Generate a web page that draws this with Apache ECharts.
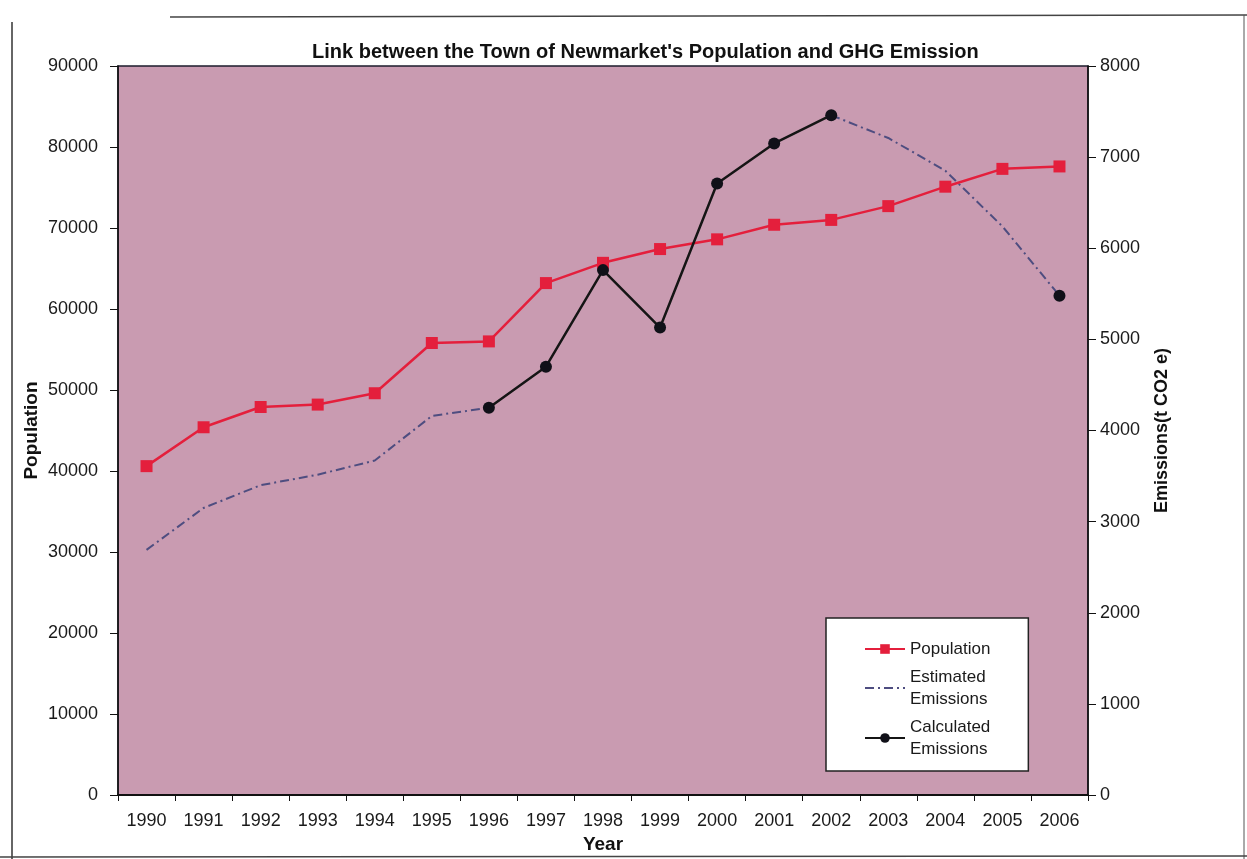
<!DOCTYPE html>
<html>
<head>
<meta charset="utf-8">
<script src="https://cdn.jsdelivr.net/npm/echarts@6/dist/echarts.min.js"></script>
<style>
html,body{margin:0;padding:0;background:#fff;}
#chart{width:1247px;height:859px;}
</style>
</head>
<body>
<div id="chart"></div>
<script>
const years = ['1990','1991','1992','1993','1994','1995','1996','1997','1998','1999','2000','2001','2002','2003','2004','2005','2006'];
const population = [40600, 45400, 47900, 48200, 49600, 55800, 56000, 63200, 65700, 67400, 68600, 70400, 71000, 72700, 75100, 77300, 77600];
const estimatedEmissions = [2690, 3150, 3400, 3515, 3670, 4160, 4250, null, null, null, null, null, 7460, 7210, 6850, 6240, 5480];
const calculatedEmissions = [null, null, null, null, null, null, 4250, 4700, 5760, 5130, 6710, 7150, 7460, null, null, null, 5480];
const popTicks = {min: 0, max: 90000, interval: 10000};
const emTicks = {min: 0, max: 8000, interval: 1000};

const FONT = '"Liberation Sans", Arial, "DejaVu Sans", sans-serif';
const chart = echarts.init(document.getElementById('chart'), null, {renderer: 'canvas'});
const axisTxt = {color: '#1a1a1a', fontSize: 18, fontFamily: FONT, formatter: function (v) { return String(v); }};
const nameTxt = {color: '#111', fontSize: 19, fontWeight: 'bold', fontFamily: FONT};

chart.setOption({
  animation: false,
  backgroundColor: '#ffffff',
  title: {
    text: "Link between the Town of Newmarket's Population and GHG Emission",
    left: 307, top: 37,
    textStyle: {color: '#111', fontSize: 20, fontWeight: 'bold', fontFamily: FONT}
  },
  grid: {
    left: 118, right: 159, top: 66, bottom: 64,
    show: true, backgroundColor: '#c99bb1', borderColor: '#1c1c2c', borderWidth: 1.5
  },
  legend: {
    orient: 'vertical', left: 826, top: 618,
    padding: [20, 38, 11, 38], itemGap: 6,
    itemWidth: 40, itemHeight: 12,
    backgroundColor: '#ffffff', borderColor: '#222', borderWidth: 1.5,
    textStyle: {color: '#1a1a1a', fontSize: 17, fontFamily: FONT, lineHeight: 22},
    formatter: function (n) { return n.replace(' ', '\n'); },
    data: [
      {name: 'Population'},
      {name: 'Estimated Emissions', itemStyle: {opacity: 0}},
      {name: 'Calculated Emissions'}
    ]
  },
  xAxis: {
    type: 'category', data: years, boundaryGap: true,
    name: 'Year', nameLocation: 'middle', nameGap: 40, nameTextStyle: nameTxt,
    nameMoveOverlap: false,
    axisLine: {show: true, lineStyle: {color: '#111', width: 2}},
    axisTick: {show: true, alignWithLabel: false, length: 6, lineStyle: {color: '#111'}},
    axisLabel: Object.assign({}, axisTxt, {margin: 17}),
    splitLine: {show: false}
  },
  yAxis: [
    {
      type: 'value', min: popTicks.min, max: popTicks.max, interval: popTicks.interval,
      name: 'Population', nameLocation: 'middle', nameGap: 77, nameRotate: 90, nameTextStyle: nameTxt,
      nameMoveOverlap: false,
      axisLine: {show: true, lineStyle: {color: '#111', width: 1.5}},
      axisTick: {show: true, length: 8, lineStyle: {color: '#111'}},
      axisLabel: Object.assign({}, axisTxt, {margin: 20}),
      splitLine: {show: false}
    },
    {
      type: 'value', min: emTicks.min, max: emTicks.max, interval: emTicks.interval,
      position: 'right',
      name: 'Emissions(t CO2 e)', nameLocation: 'middle', nameGap: 65, nameRotate: 90,
      nameTextStyle: Object.assign({}, nameTxt, {fontSize: 18}),
      nameMoveOverlap: false,
      axisLine: {show: true, lineStyle: {color: '#111', width: 1.5}},
      axisTick: {show: true, length: 8, lineStyle: {color: '#111'}},
      axisLabel: Object.assign({}, axisTxt, {margin: 12}),
      splitLine: {show: false}
    }
  ],
  series: [
    {
      name: 'Population', type: 'line', yAxisIndex: 0, data: population,
      symbol: 'rect', symbolSize: 12,
      lineStyle: {color: '#e41f3c', width: 2.5},
      itemStyle: {color: '#e41f3c'},
      z: 3
    },
    {
      name: 'Estimated Emissions', type: 'line', yAxisIndex: 1, data: estimatedEmissions,
      symbol: 'none', showSymbol: false,
      lineStyle: {color: '#4e4d80', width: 2, type: [9, 4, 2, 4]},
      itemStyle: {color: '#4e4d80'},
      z: 2
    },
    {
      name: 'Calculated Emissions', type: 'line', yAxisIndex: 1, data: calculatedEmissions,
      symbol: 'circle', symbolSize: 12, connectNulls: false,
      lineStyle: {color: '#151515', width: 2.5},
      itemStyle: {color: '#101018'},
      z: 4
    }
  ],
  graphic: [
    {type: 'line', shape: {x1: 12, y1: 22, x2: 12, y2: 859}, style: {stroke: '#333', lineWidth: 1.5}},
    {type: 'line', shape: {x1: 170, y1: 17, x2: 1247, y2: 15}, style: {stroke: '#444', lineWidth: 1.5}},
    {type: 'line', shape: {x1: 1244, y1: 15, x2: 1244, y2: 859}, style: {stroke: '#555', lineWidth: 1}},
    {type: 'line', shape: {x1: 0, y1: 857, x2: 1247, y2: 856}, style: {stroke: '#444', lineWidth: 1.5}}
  ]
});
</script>
</body>
</html>
